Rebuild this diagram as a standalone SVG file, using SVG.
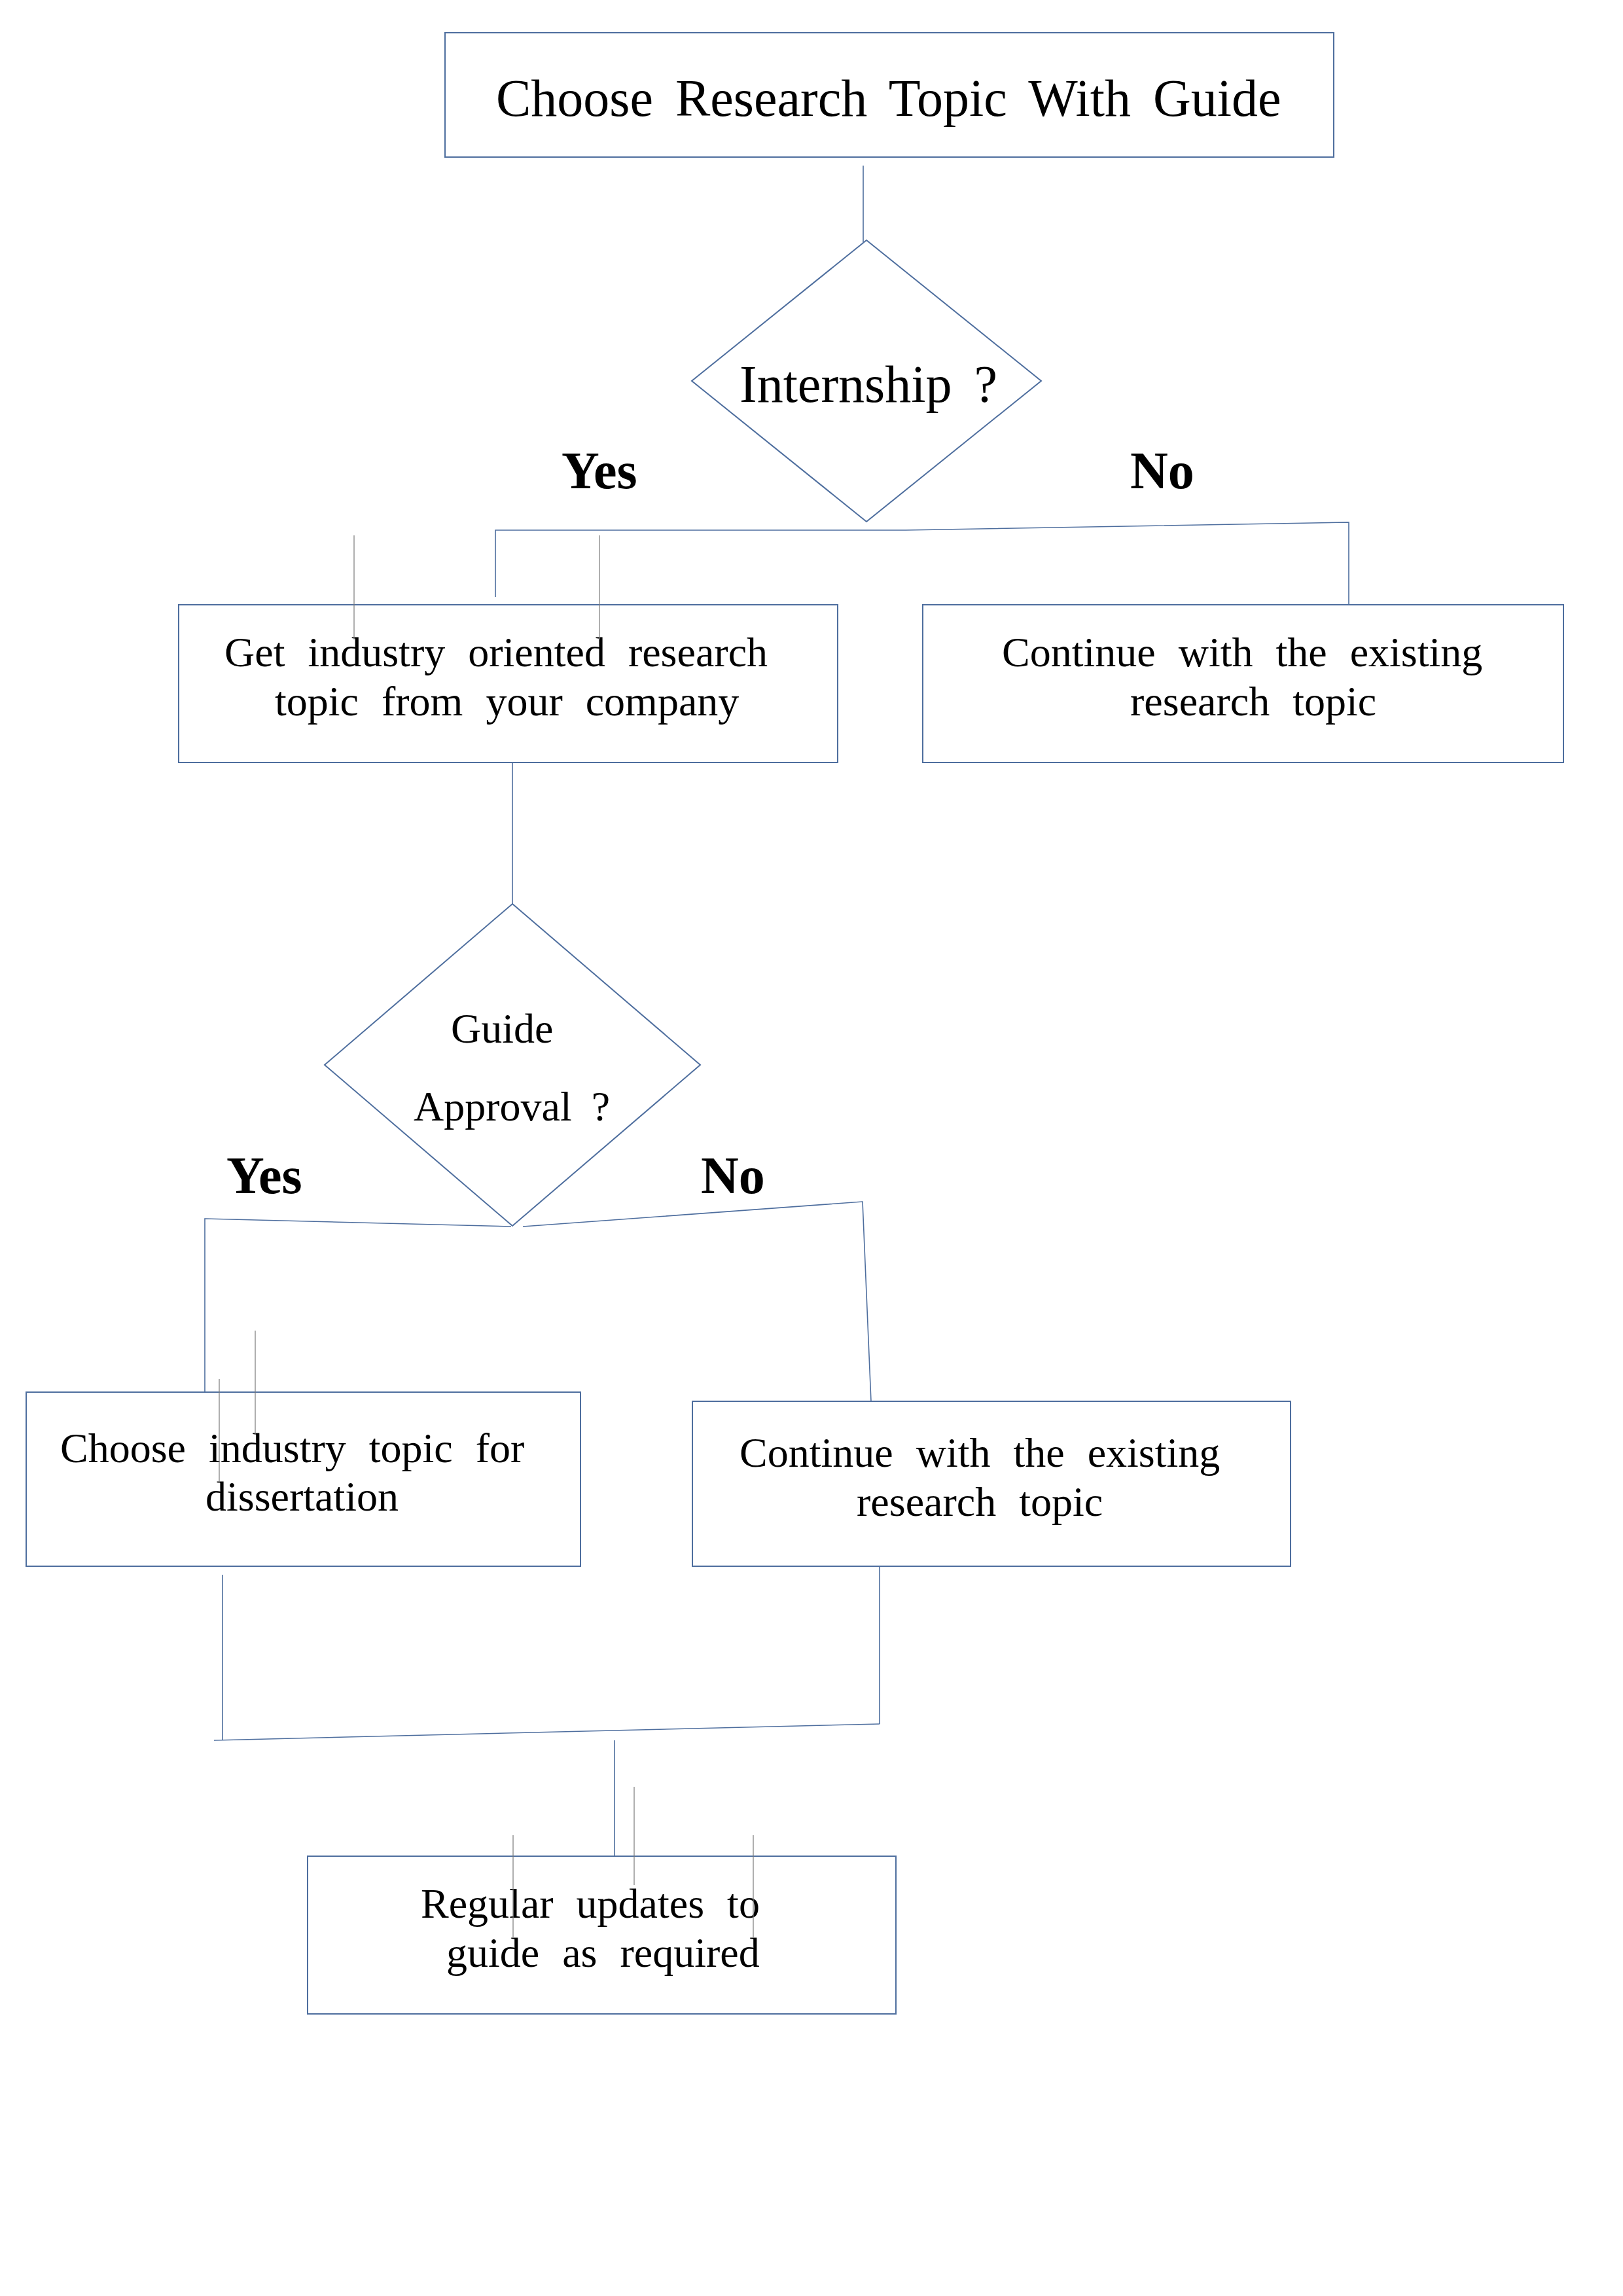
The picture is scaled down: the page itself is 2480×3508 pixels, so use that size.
<svg xmlns="http://www.w3.org/2000/svg" width="2480" height="3508" viewBox="0 0 2480 3508">
<style>
.box{fill:#ffffff;stroke:#4e6e9e;stroke-width:2}
.con{fill:none;stroke:#4e6e9e;stroke-width:1.6}
.thin{fill:none;stroke:#7a7a7a;stroke-width:1.2}
.t{font-family:"Liberation Serif","Times New Roman",serif;fill:#000}
.big{font-size:80px;word-spacing:14px}
.mid{font-size:64px;word-spacing:19px}
.lab{font-family:"Liberation Serif","Times New Roman",serif;font-size:80px;font-weight:bold;fill:#000}
</style>
<rect width="2480" height="3508" fill="#ffffff"/>
<g id="connectors">
<line class="con" x1="1319" y1="253" x2="1319" y2="378"/>
<polyline class="con" points="757,912 757,810 1384,810 2061,798 2061,924"/>
<line class="con" x1="783" y1="1152" x2="783" y2="1393"/>
<polyline class="con" points="313,2127 313,1862 781,1874"/>
<polyline class="con" points="799,1874 1318,1836 1331,2141"/>
<line class="con" x1="340" y1="2406" x2="340" y2="2659"/>
<line class="con" x1="327" y1="2659" x2="1344" y2="2634"/>
<line class="con" x1="1344" y1="2393" x2="1344" y2="2634"/>
<line class="con" x1="939" y1="2659" x2="939" y2="2836"/>
</g>
<g id="node-title">
<rect class="box" x="680" y="50" width="1358" height="190"/>
<text class="t big" x="758" y="177">Choose Research Topic With Guide</text>
</g>
<g id="node-internship">
<polygon class="box" points="1324,367 1591,582 1324,797 1057,582"/>
<text class="t big" x="1130" y="614">Internship ?</text>
</g>
<g id="label-yes-1"><text class="lab" x="858" y="746">Yes</text></g>
<g id="label-no-1"><text class="lab" x="1727" y="746">No</text></g>
<g id="node-industry-topic">
<rect class="box" x="273" y="924" width="1007" height="241"/>
<text class="t mid" x="343" y="1018">Get industry oriented research</text>
<text class="t mid" x="420" y="1093">topic from your company</text>
</g>
<g id="node-continue-1">
<rect class="box" x="1410" y="924" width="979" height="241"/>
<text class="t mid" x="1531" y="1018">Continue with the existing</text>
<text class="t mid" x="1727" y="1093">research topic</text>
</g>
<g id="node-guide-approval">
<polygon class="box" points="783,1381 1070,1627 783,1873 496,1627"/>
<text class="t" font-size="64" x="689" y="1593">Guide</text>
<text class="t" font-size="64" word-spacing="14" x="632" y="1712">Approval ?</text>
</g>
<g id="label-yes-2"><text class="lab" x="346" y="1823">Yes</text></g>
<g id="label-no-2"><text class="lab" x="1071" y="1823">No</text></g>
<g id="node-choose-industry">
<rect class="box" x="40" y="2127" width="847" height="266"/>
<text class="t mid" x="92" y="2234">Choose industry topic for</text>
<text class="t mid" x="314" y="2308">dissertation</text>
</g>
<g id="node-continue-2">
<rect class="box" x="1058" y="2141" width="914" height="252"/>
<text class="t mid" x="1130" y="2241">Continue with the existing</text>
<text class="t mid" x="1309" y="2316">research topic</text>
</g>
<g id="node-regular-updates">
<rect class="box" x="470" y="2836" width="899" height="241"/>
<text class="t mid" x="643" y="2930">Regular updates to</text>
<text class="t mid" x="682" y="3005">guide as required</text>
</g>
<g id="stray-lines">
<line class="thin" x1="541" y1="818" x2="541" y2="977"/>
<line class="thin" x1="916" y1="818" x2="916" y2="977"/>
<line class="thin" x1="390" y1="2033" x2="390" y2="2192"/>
<line class="thin" x1="335" y1="2107" x2="335" y2="2266"/>
<line class="thin" x1="784" y1="2804" x2="784" y2="2960"/>
<line class="thin" x1="969" y1="2730" x2="969" y2="2880"/>
<line class="thin" x1="1151" y1="2804" x2="1151" y2="2960"/>
</g>
</svg>
